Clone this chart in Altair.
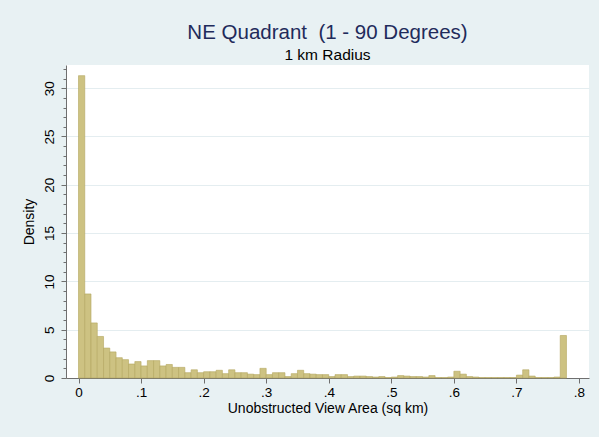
import altair as alt
import pandas as pd

# Histogram of unobstructed view area (density scale), bins of 0.01 sq km
bin_start = 0.0
bin_width = 0.01
density = [
    31.3, 8.7, 5.7, 4.3, 3.1, 2.7, 2.1, 1.9, 1.45, 1.7,
    1.25, 1.8, 1.8, 1.25, 1.4, 1.1, 1.1, 0.55, 0.85, 0.55,
    0.65, 0.65, 0.8, 0.45, 0.85, 0.55, 0.55, 0.4, 0.35, 1.0,
    0.35, 0.55, 0.55, 0.15, 0.45, 0.8, 0.45, 0.4, 0.35, 0.35,
    0.15, 0.35, 0.35, 0.15, 0.2, 0.2, 0.15, 0.1, 0.15, 0.05,
    0.1, 0.25, 0.2, 0.15, 0.15, 0.1, 0.25, 0.05, 0.05, 0.1,
    0.7, 0.4, 0.15, 0.1, 0.05, 0.05, 0.05, 0.05, 0.05, 0.05,
    0.3, 0.85, 0.2, 0.05, 0.05, 0.05, 0.1, 4.4,
]
x_ticks = [0, 0.1, 0.2, 0.3, 0.4, 0.5, 0.6, 0.7, 0.8]
x_labels = ["0", ".1", ".2", ".3", ".4", ".5", ".6", ".7", ".8"]
y_ticks = list(range(0, 33))

df = pd.DataFrame({
    "start": [bin_start + i * bin_width for i in range(len(density))],
    "end": [bin_start + (i + 1) * bin_width for i in range(len(density))],
    "density": density,
})

FONT = "Liberation Sans"
label_map = "{" + ",".join(f"'{v}':'{l}'" for v, l in zip(x_ticks, x_labels)) + "}"

chart = alt.Chart(df).mark_bar(
    fill="#cdc282", stroke="#b3a65e", strokeWidth=0.6
).encode(
    x=alt.X(
        "start:Q",
        scale=alt.Scale(domain=[-0.02, 0.816], nice=False, zero=False),
        axis=alt.Axis(
            values=x_ticks,
            labelExpr=f"{label_map}[datum.value] || datum.label",
            title="Unobstructed View Area (sq km)",
            grid=False,
            tickSize=5,
            labelPadding=2,
            titlePadding=3,
            labelFontSize=13.5,
            titleFontSize=14,
        ),
    ),
    x2="end:Q",
    y=alt.Y(
        "density:Q",
        scale=alt.Scale(domain=[0, 32.4], nice=False),
        axis=alt.Axis(
            values=y_ticks,
            labelExpr="datum.value % 5 === 0 ? datum.label : ''",
            title="Density",
            labelAngle=270,
            grid=True,
            gridColor={"condition": {"test": "datum.value % 5 === 0 && datum.value > 0", "value": "#e4edf0"}, "value": "transparent"},
            tickSize={"condition": {"test": "datum.value % 5 === 0", "value": 5}, "value": 3},
            labelPadding=5,
            titlePadding=6,
            labelFontSize=13.5,
            titleFontSize=14,
        ),
    ),
    y2=alt.datum(0),
).properties(
    width=523,
    height=313,
    padding={"left": 66, "top": 65, "right": 10, "bottom": 59},
    autosize=alt.AutoSizeParams(type="none"),
    title=alt.TitleParams(
        text="NE Quadrant \u00a0(1 - 90 Degrees)",
        subtitle="1 km Radius",
        anchor="middle",
        frame="group",
        font=FONT,
        fontSize=20.5,
        fontWeight="normal",
        color="#1f2b5b",
        subtitleFont=FONT,
        subtitleFontSize=15.5,
        subtitleColor="#000000",
        subtitlePadding=4,
        offset=2,
    ),
).configure(
    background="#e8f1f3",
).configure_view(
    fill="white",
    stroke=None,
).configure_axis(
    labelFont=FONT,
    titleFont=FONT,
    labelColor="#000000",
    titleColor="#000000",
    titleFontWeight="normal",
    domainColor="#6f6f6f",
    tickColor="#6f6f6f",
    domainWidth=1,
    tickWidth=1,
)

chart.save("out.html", embed_options={"renderer": "svg", "actions": False})
